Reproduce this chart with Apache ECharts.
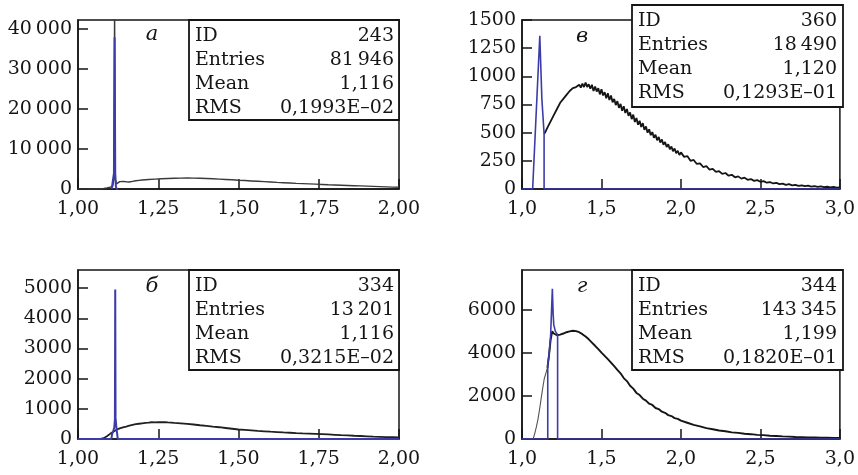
<!DOCTYPE html>
<html><head><meta charset="utf-8">
<script src="https://cdn.jsdelivr.net/npm/echarts@6/dist/echarts.min.js"></script>
<style>html,body{margin:0;padding:0;background:#fff}#c{width:858px;height:475px}</style>
</head><body><div id="c"></div>
<script>
// ---------- DATA ----------
// Panel а (ID 243)
const aBlack = [[1.00,0],[1.07,0],[1.08,120],[1.09,280],[1.10,450],[1.108,650],[1.112,2500],[1.114,46000],[1.116,2500],[1.12,1300],[1.125,1650],[1.13,1850],[1.14,1900],[1.15,1800],[1.16,1750],[1.17,1900],[1.18,2050],[1.19,2150],[1.20,2250],[1.22,2380],[1.24,2470],[1.26,2550],[1.28,2620],[1.30,2680],[1.32,2720],[1.34,2740],[1.36,2720],[1.38,2680],[1.40,2620],[1.42,2560],[1.44,2480],[1.46,2390],[1.48,2300],[1.50,2200],[1.52,2110],[1.54,2020],[1.56,1930],[1.58,1840],[1.60,1750],[1.62,1660],[1.64,1580],[1.66,1500],[1.68,1420],[1.70,1350],[1.72,1280],[1.74,1210],[1.76,1140],[1.78,1070],[1.80,1010],[1.82,950],[1.84,890],[1.86,830],[1.88,770],[1.90,710],[1.92,650],[1.94,590],[1.96,530],[1.98,470],[2.00,420]];
const aBlue = [[1.105,0],[1.109,300],[1.112,4000],[1.114,38000],[1.116,4000],[1.118,600],[1.121,0],[1.125,0]];
// Panel б (ID 334)
const bBlack = [[1.00,0],[1.07,0],[1.08,25],[1.09,90],[1.10,170],[1.11,240],[1.12,310],[1.13,350],[1.14,385],[1.15,410],[1.16,440],[1.17,465],[1.18,490],[1.19,505],[1.20,520],[1.21,535],[1.22,540],[1.23,555],[1.24,550],[1.25,560],[1.26,555],[1.27,560],[1.28,550],[1.29,545],[1.30,535],[1.32,520],[1.34,500],[1.36,480],[1.38,455],[1.40,435],[1.42,410],[1.44,390],[1.46,365],[1.48,340],[1.50,315],[1.52,300],[1.54,285],[1.56,268],[1.58,255],[1.60,242],[1.62,230],[1.64,218],[1.66,207],[1.68,196],[1.70,186],[1.72,178],[1.74,170],[1.76,160],[1.78,150],[1.80,140],[1.82,128],[1.84,118],[1.86,108],[1.88,99],[1.90,90],[1.92,81],[1.94,73],[1.96,65],[1.98,58],[2.00,50]];
const bBlue = [[1.00,0],[1.104,0],[1.106,150],[1.110,280],[1.113,380],[1.115,650],[1.116,4950],[1.117,700],[1.119,450],[1.121,250],[1.124,0],[2.00,0]];
// Panel в (ID 360)
const vBlack = [[1.14,490],[1.15,515],[1.16,545],[1.17,560],[1.18,600],[1.19,615],[1.20,655],[1.21,670],[1.22,710],[1.23,720],[1.24,765],[1.25,770],[1.26,800],[1.27,815],[1.28,835],[1.29,845],[1.30,870],[1.31,860],[1.32,895],[1.33,880],[1.34,905],[1.35,890],[1.36,925],[1.37,900],[1.38,935],[1.39,905],[1.40,945],[1.41,905],[1.42,930],[1.43,890],[1.44,925],[1.45,870],[1.46,910],[1.47,865],[1.48,895],[1.49,840],[1.50,885],[1.51,830],[1.52,860],[1.53,805],[1.54,850],[1.55,790],[1.56,830],[1.57,770],[1.58,800],[1.59,745],[1.60,780],[1.61,720],[1.62,755],[1.63,695],[1.64,735],[1.65,675],[1.66,710],[1.67,650],[1.68,680],[1.69,620],[1.70,660],[1.71,595],[1.72,630],[1.73,570],[1.74,605],[1.75,550],[1.76,585],[1.77,525],[1.78,555],[1.79,500],[1.80,530],[1.81,478],[1.82,505],[1.83,455],[1.84,482],[1.85,432],[1.86,462],[1.87,412],[1.88,440],[1.89,392],[1.90,418],[1.91,372],[1.92,398],[1.93,352],[1.94,378],[1.95,335],[1.96,360],[1.97,318],[1.98,340],[1.99,302],[2.00,325],[2.02,285],[2.04,292],[2.06,250],[2.08,258],[2.10,222],[2.12,228],[2.14,195],[2.16,202],[2.18,172],[2.20,178],[2.22,152],[2.24,158],[2.26,134],[2.28,142],[2.30,118],[2.32,126],[2.34,104],[2.36,112],[2.38,92],[2.40,100],[2.42,82],[2.44,88],[2.46,72],[2.48,79],[2.50,64],[2.52,70],[2.54,56],[2.56,62],[2.58,49],[2.60,55],[2.62,43],[2.64,48],[2.66,37],[2.68,43],[2.70,33],[2.72,37],[2.74,28],[2.76,33],[2.78,25],[2.80,29],[2.82,22],[2.84,26],[2.86,19],[2.88,23],[2.90,17],[2.92,20],[2.94,15],[2.96,18],[2.98,13],[3.00,15]];
const vBlue = [[1.00,0],[1.067,0],[1.112,1360],[1.125,800],[1.139,490],[1.139,0],[3.00,0]];
// Panel г (ID 344)
const gGray = [[1.00,0],[1.07,0],[1.08,250],[1.09,550],[1.10,900],[1.11,1350],[1.12,1850],[1.13,2350],[1.14,2800],[1.15,3050],[1.16,3300]];
const gBlack = [[1.16,3300],[1.17,3900],[1.18,4600],[1.19,5000],[1.20,4900],[1.21,4860],[1.22,4820],[1.23,4880],[1.24,4850],[1.25,4930],[1.26,4900],[1.27,4990],[1.28,4960],[1.29,5050],[1.30,5000],[1.31,5080],[1.32,5030],[1.33,5080],[1.34,5010],[1.35,5040],[1.36,4960],[1.37,4960],[1.38,4870],[1.39,4850],[1.40,4760],[1.41,4730],[1.42,4630],[1.43,4590],[1.44,4480],[1.45,4430],[1.46,4330],[1.47,4270],[1.48,4170],[1.49,4110],[1.50,4010],[1.51,3960],[1.52,3860],[1.53,3800],[1.54,3710],[1.55,3640],[1.56,3550],[1.57,3480],[1.58,3380],[1.59,3310],[1.60,3210],[1.62,3050],[1.64,2830],[1.66,2690],[1.68,2470],[1.70,2340],[1.72,2140],[1.74,2040],[1.76,1870],[1.78,1780],[1.80,1640],[1.82,1580],[1.84,1440],[1.86,1390],[1.88,1270],[1.90,1215],[1.92,1110],[1.94,1065],[1.96,970],[1.98,935],[2.00,855],[2.04,755],[2.08,655],[2.12,585],[2.16,505],[2.20,455],[2.24,395],[2.28,360],[2.32,310],[2.36,285],[2.40,242],[2.44,224],[2.48,192],[2.52,178],[2.56,152],[2.60,141],[2.64,120],[2.68,111],[2.72,94],[2.76,88],[2.80,74],[2.84,70],[2.88,60],[2.92,57],[2.96,49],[3.00,46]];
const gBlue = [[1.00,0],[1.162,0],[1.162,3450],[1.17,3900],[1.18,4800],[1.186,6000],[1.191,6975],[1.196,5800],[1.20,5300],[1.21,5000],[1.224,4850],[1.224,0],[3.00,0]];

// Tick values
const aYTicks = [0,10000,20000,30000,40000];
const bYTicks = [0,1000,2000,3000,4000,5000];
const vYTicks = [0,250,500,750,1000,1250,1500];
const gYTicks = [0,2000,4000,6000];

// Statistics boxes
const statLabels = ['ID','Entries','Mean','RMS'];
const aStats = ['243','81\u2009946','1,116','0,1993E\u201302'];
const bStats = ['334','13\u2009201','1,116','0,3215E\u201302'];
const vStats = ['360','18\u2009490','1,120','0,1293E\u201301'];
const gStats = ['344','143\u2009345','1,199','0,1820E\u201301'];
const panelLetters = ['а','б','в','г'];

// ---------- LAYOUT / STYLE ----------
const FONT = '"DejaVu Serif", "Liberation Serif", serif';
const BLUE = '#3c3ca8';
const INK = '#151515';

const panels = [
  {grid:{left:78,top:20,width:321,height:169}, xMin:1, xMax:2, xStep:0.25, xDec:2, yMax:42300, yTicks:aYTicks,
   series:[{d:aBlack,c:'#3a3a3a',w:1.4},{d:aBlue,c:BLUE,w:2}], letter:panelLetters[0], letterPos:[152,35],
   box:[189,20,210,100], rows:[35,59,83,107], lx:195, rx:394, stats:aStats},
  {grid:{left:78,top:270,width:321,height:169}, xMin:1, xMax:2, xStep:0.25, xDec:2, yMax:5600, yTicks:bYTicks,
   series:[{d:bBlack,c:'#202020',w:1.8},{d:bBlue,c:BLUE,w:2}], letter:panelLetters[1], letterPos:[152,287],
   box:[189,270,210,100], rows:[285,309,333,357], lx:195, rx:394, stats:bStats},
  {grid:{left:522,top:20,width:321,height:169}, xMin:1, xMax:3, xStep:0.5, xDec:1, yMax:1500, yTicks:vYTicks,
   series:[{d:vBlack,c:'#151515',w:1.8},{d:vBlue,c:BLUE,w:1.6}], letter:panelLetters[2], letterPos:[582,37],
   box:[632,5,211,102], rows:[20,44,68,92], lx:638, rx:837, stats:vStats},
  {grid:{left:522,top:270,width:321,height:169}, xMin:1, xMax:3, xStep:0.5, xDec:1, yMax:7850, yTicks:gYTicks,
   series:[{d:gGray,c:'#555',w:1.1},{d:gBlack,c:'#151515',w:1.9},{d:gBlue,c:BLUE,w:1.6}], letter:panelLetters[3], letterPos:[582,287],
   box:[632,270,211,100], rows:[285,309,333,357], lx:638, rx:837, stats:gStats}
];

function fmtInt(v){
  const s = String(Math.round(v));
  return s.length > 4 ? s.slice(0, s.length-3) + '\u2009' + s.slice(s.length-3) : s;
}

const option = {animation:false, backgroundColor:'#fff', grid:[], xAxis:[], yAxis:[], series:[], graphic:[]};

panels.forEach((p, i) => {
  option.grid.push(Object.assign({show:true, borderColor:INK, borderWidth:1.5, backgroundColor:'transparent', containLabel:false}, p.grid));
  option.xAxis.push({
    type:'value', gridIndex:i, min:p.xMin, max:p.xMax, interval:p.xStep,
    axisLine:{show:true, lineStyle:{color:INK, width:1.5}},
    axisTick:{show:true, inside:true, length:10, lineStyle:{color:INK, width:1.5}},
    splitLine:{show:false},
    axisLabel:{margin:11, fontFamily:FONT, fontSize:19, color:INK,
      formatter: v => v.toFixed(p.xDec).replace('.', ',')}
  });
  option.yAxis.push({
    type:'value', gridIndex:i, min:0, max:p.yMax,
    axisLine:{show:true, lineStyle:{color:INK, width:1.5}},
    axisTick:{show:true, inside:true, length:10, lineStyle:{color:INK, width:1.5}, customValues:p.yTicks},
    splitLine:{show:false},
    axisLabel:{margin:6, fontFamily:FONT, fontSize:19, color:INK, customValues:p.yTicks,
      formatter: v => fmtInt(v)}
  });
  p.series.forEach(s => {
    option.series.push({type:'line', xAxisIndex:i, yAxisIndex:i, data:s.d, showSymbol:false, symbol:'none',
      clip:true, lineStyle:{color:s.c, width:s.w}, z:3, silent:true});
  });
  // statistics box
  option.graphic.push({type:'rect', z:10, shape:{x:p.box[0], y:p.box[1], width:p.box[2], height:p.box[3]},
    style:{fill:'#fff', stroke:INK, lineWidth:1.8}});
  statLabels.forEach((lab, r) => {
    option.graphic.push({type:'text', z:11, style:{text:lab, x:p.lx, y:p.rows[r]+1, font:'19px ' + FONT, fill:INK,
      align:'left', verticalAlign:'middle', textAlign:'left', textVerticalAlign:'middle'}});
    option.graphic.push({type:'text', z:11, style:{text:p.stats[r], x:p.rx, y:p.rows[r]+1, font:'19px ' + FONT, fill:INK,
      align:'right', verticalAlign:'middle', textAlign:'right', textVerticalAlign:'middle'}});
  });
  option.graphic.push({type:'text', z:11, style:{text:p.letter, x:p.letterPos[0], y:p.letterPos[1], font:'italic 21px ' + FONT, fill:INK,
    align:'center', verticalAlign:'middle', textAlign:'center', textVerticalAlign:'middle'}});
});

const chart = echarts.init(document.getElementById('c'), null, {renderer:'canvas'});
chart.setOption(option);
</script>
</body></html>
